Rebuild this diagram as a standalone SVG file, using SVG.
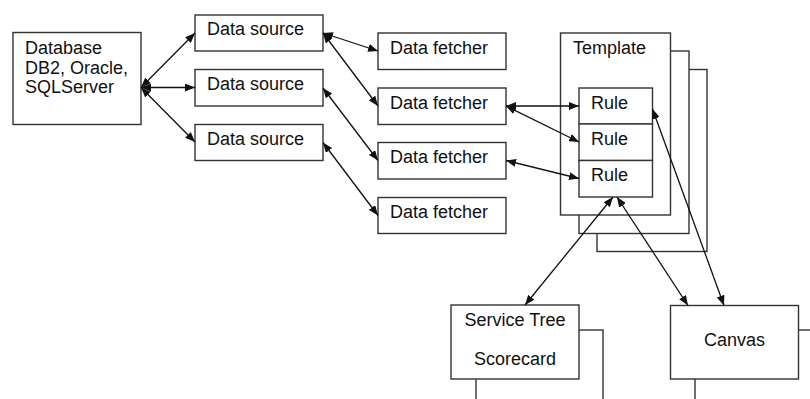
<svg xmlns="http://www.w3.org/2000/svg" width="810" height="399" viewBox="0 0 810 399">
  <style>
    .box { fill: #fff; stroke: #333; stroke-width: 1.4; }
    .lbl { font-family: "Liberation Sans", Arial, sans-serif; font-size: 18px; fill: #111; }
    .mid { text-anchor: middle; }
    .link { stroke: #111; stroke-width: 1.3; fill: none; marker-start: url(#head); marker-end: url(#head); }
  </style>
  <defs>
    <marker id="head" viewBox="0 0 10 8" refX="10" refY="4" markerWidth="10" markerHeight="8" markerUnits="userSpaceOnUse" orient="auto-start-reverse">
      <path d="M0,0 L10,4 L0,8 Z" fill="#111"/>
    </marker>
  </defs>

  <g id="database">
    <rect class="box" x="13" y="32.5" width="128" height="92"/>
    <text class="lbl" x="25" y="54">Database</text>
    <text class="lbl" x="25" y="73.5">DB2, Oracle,</text>
    <text class="lbl" x="25" y="92.5">SQLServer</text>
  </g>

  <g id="datasource-1">
    <rect class="box" x="195" y="15" width="128" height="36"/>
    <text class="lbl" x="207" y="35">Data source</text>
  </g>
  <g id="datasource-2">
    <rect class="box" x="195" y="69.5" width="128" height="36.5"/>
    <text class="lbl" x="207" y="89.5">Data source</text>
  </g>
  <g id="datasource-3">
    <rect class="box" x="195" y="124.5" width="128" height="36"/>
    <text class="lbl" x="207" y="144.5">Data source</text>
  </g>

  <g id="fetcher-1">
    <rect class="box" x="378" y="33" width="128" height="36.5"/>
    <text class="lbl" x="390" y="54">Data fetcher</text>
  </g>
  <g id="fetcher-2">
    <rect class="box" x="378" y="88" width="128" height="36.5"/>
    <text class="lbl" x="390" y="108.5">Data fetcher</text>
  </g>
  <g id="fetcher-3">
    <rect class="box" x="378" y="142.5" width="128" height="36.5"/>
    <text class="lbl" x="390" y="163">Data fetcher</text>
  </g>
  <g id="fetcher-4">
    <rect class="box" x="378" y="197.5" width="128" height="36"/>
    <text class="lbl" x="390" y="218">Data fetcher</text>
  </g>

  <g id="template">
    <rect class="box" x="597" y="69.5" width="110" height="182"/>
    <rect class="box" x="579" y="51" width="110" height="182.5"/>
    <rect class="box" x="560.5" y="33" width="110" height="182"/>
    <text class="lbl" x="573" y="54">Template</text>
  </g>
  <g id="rule-1">
    <rect class="box" x="579" y="88" width="73.5" height="36"/>
    <text class="lbl" x="591" y="108.5">Rule</text>
  </g>
  <g id="rule-2">
    <rect class="box" x="579" y="124" width="73.5" height="36.5"/>
    <text class="lbl" x="591" y="145">Rule</text>
  </g>
  <g id="rule-3">
    <rect class="box" x="579" y="160.5" width="73.5" height="36.5"/>
    <text class="lbl" x="591" y="181">Rule</text>
  </g>

  <g id="scorecard">
    <rect class="box" x="476" y="330" width="127" height="100"/>
    <rect class="box" x="451" y="305" width="128" height="74"/>
    <text class="lbl mid" x="515" y="325.5">Service Tree</text>
    <text class="lbl mid" x="515" y="365">Scorecard</text>
  </g>

  <g id="canvas">
    <rect class="box" x="695" y="330" width="128" height="100"/>
    <rect class="box" x="670.5" y="305.5" width="128" height="73.5"/>
    <text class="lbl mid" x="734.5" y="345.5">Canvas</text>
  </g>

  <g id="connectors">
    <line class="link" x1="141" y1="87.5" x2="195" y2="33"/>
    <line class="link" x1="141" y1="87.5" x2="195" y2="87.5"/>
    <line class="link" x1="141" y1="87.5" x2="195" y2="142"/>

    <line class="link" x1="323" y1="33" x2="378" y2="51"/>
    <line class="link" x1="323" y1="33" x2="378" y2="106"/>
    <line class="link" x1="323" y1="88" x2="378" y2="160.5"/>
    <line class="link" x1="323" y1="142.5" x2="378" y2="215.5"/>

    <line class="link" x1="506" y1="106" x2="579" y2="106"/>
    <line class="link" x1="506" y1="106" x2="579" y2="142"/>
    <line class="link" x1="506" y1="160.5" x2="579" y2="178.5"/>

    <line class="link" x1="613" y1="197" x2="525" y2="305"/>
    <line class="link" x1="617" y1="197" x2="688" y2="305.5"/>
    <line class="link" x1="652.5" y1="109" x2="724" y2="305.5"/>
  </g>
</svg>
